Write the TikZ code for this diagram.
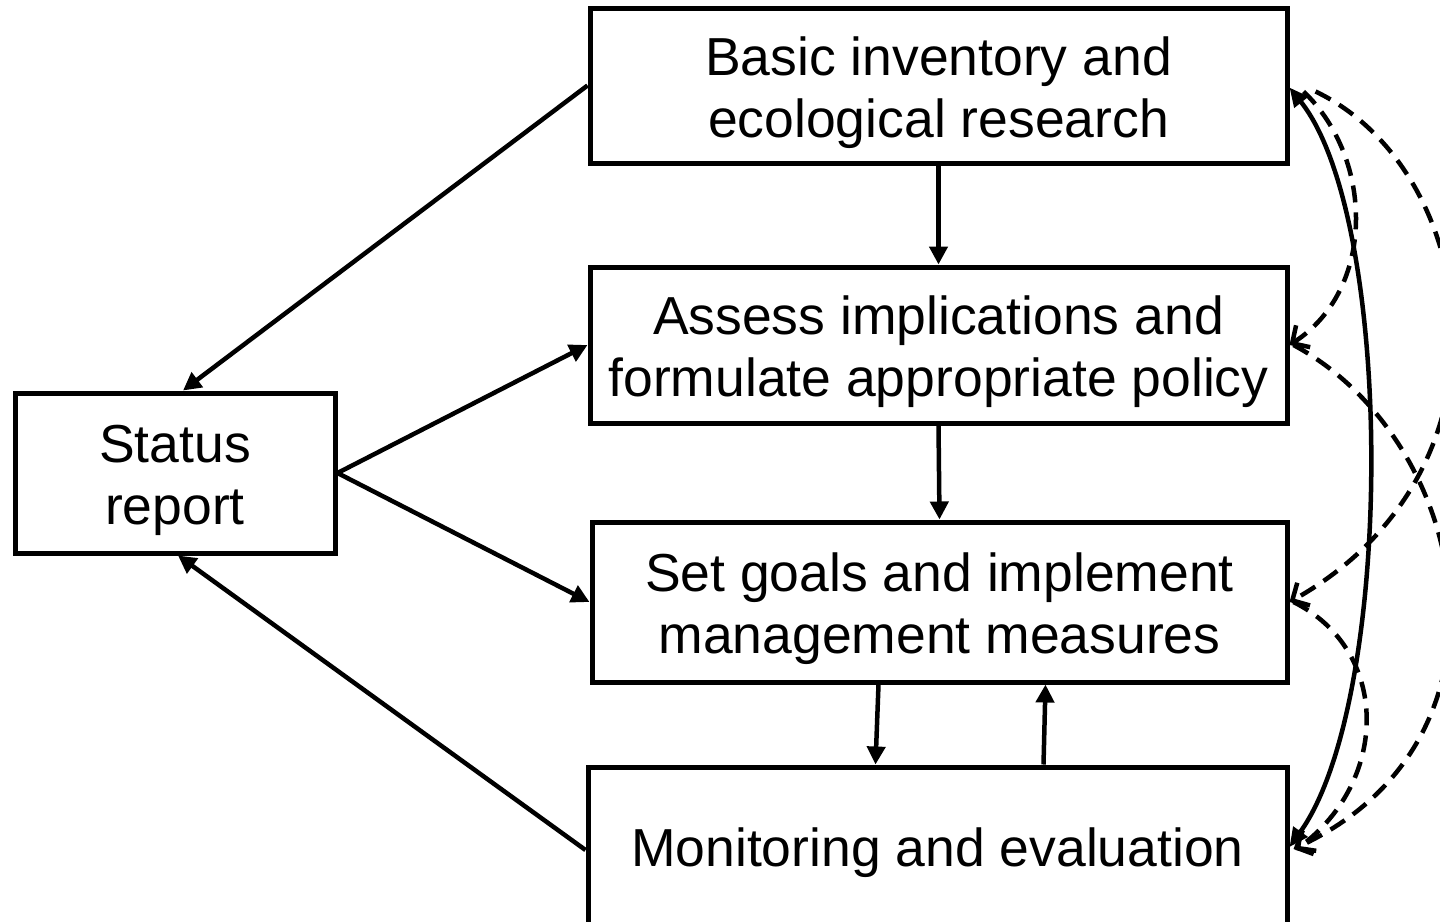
\documentclass[tikz,border=0pt]{standalone}
\usepackage{fontspec}
\setmainfont{Liberation Sans}
\usetikzlibrary{arrows.meta,calc}
\begin{document}
\begin{tikzpicture}[x=1pt,y=-1pt,
  box/.style={draw,line width=5pt,inner sep=0pt},
  txt/.style={align=center,inner sep=0pt,font=\fontsize{53.5pt}{62pt}\selectfont},
  flow/.style={line width=4.5pt,-{Triangle[length=18pt,width=18pt]}},
  loop/.style={line width=4.5pt,{Triangle[length=19pt,width=17pt]}-{Triangle[length=19pt,width=17pt]}},
  fb/.style={line width=4.5pt,dash pattern=on 17pt off 10pt,
    -{Straight Barb[length=13pt,width=26pt,line width=4.5pt]}}]
\useasboundingbox (0,0) rectangle (1440,921);

% process boxes
\node[box,minimum width=697pt,minimum height=155pt] (inv) at (938.5,85.5) {};
\node[box,minimum width=697pt,minimum height=156pt] (ass) at (938.5,345) {};
\node[box,minimum width=695pt,minimum height=160pt] (set) at (939.5,602) {};
\node[box,minimum width=699pt,minimum height=158pt] (mon) at (937.5,846) {};
\node[box,minimum width=320pt,minimum height=160pt] (st) at (175,473) {};

% box captions
\node[txt] (invT) at ([yshift=-7pt]inv.center) {Basic inventory and\\ecological research};
\node[txt] (assT) at ([yshift=-7pt]ass.center) {Assess implications and\\formulate appropriate policy};
\node[txt] (setT) at ([yshift=-7pt]set.center) {Set goals and implement\\management measures};
\node[txt] (monT) at ([yshift=-7pt]mon.center) {Monitoring and evaluation};
\node[txt] (stT) at ([yshift=-7pt]st.center) {Status\\report};

% main flow
\draw[flow] (inv.south) -- (ass.north);
\draw[flow] (ass.south) -- (set.north);
\draw[flow] ([xshift=-61pt]set.south) -- ([xshift=-62pt]mon.north);
\draw[flow] ([xshift=106pt]mon.north) -- ([xshift=106pt]set.south);

% reporting links
\draw[flow] (inv.west) -- ([xshift=8pt]st.north);
\draw[flow] (st.east) -- (ass.west);
\draw[flow] (st.east) -- (set.west);
\draw[flow] ([yshift=-4pt]mon.west) -- ([xshift=3pt]st.south);

% feedback loops on the right
\coordinate (invE) at ([yshift=-2pt]inv.east);
\coordinate (monE) at ([yshift=-1pt]mon.east);
\draw[loop] (invE) .. controls (1395,220) and (1395,700) .. (monE);
\draw[fb] ([xshift=14pt,yshift=-6pt]inv.east) .. controls (1375,160) and (1375,290) .. (ass.east);
\draw[fb] ([xshift=26pt,yshift=-6pt]inv.east) .. controls (1480,170) and (1525,470) .. (set.east);
\draw[fb] ([xshift=4pt]ass.east) .. controls (1470,440) and (1530,740) .. ([xshift=4pt,yshift=-3pt]mon.east);
\draw[fb] ([xshift=4pt]set.east) .. controls (1390,650) and (1390,780) .. ([xshift=6pt,yshift=-4pt]mon.east);
\end{tikzpicture}
\end{document}
